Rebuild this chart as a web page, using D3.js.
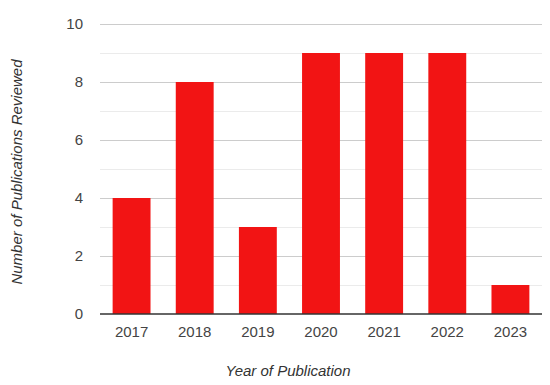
<!DOCTYPE html>
<html>
<head>
<meta charset="utf-8">
<script src="https://cdn.jsdelivr.net/npm/d3@7"></script>
<style>
  body { margin: 0; background: #fff; }
  text { font-family: "Liberation Sans", Arial, sans-serif; }
</style>
</head>
<body>
<div id="chart"></div>
<script>
var years = ["2017", "2018", "2019", "2020", "2021", "2022", "2023"]
var counts = [4, 8, 3, 9, 9, 9, 1]
var yTicks = [0, 2, 4, 6, 8, 10]
var yMinor = [1, 3, 5, 7, 9]

var w = 550
var h = 385
var margin = {top: 24, right: 8, bottom: 71, left: 100}

var svg = d3.select("#chart").append("svg").attr("width", w).attr("height", h)

var x = d3.scaleBand()
    .domain(years)
    .range([margin.left, w - margin.right])
    .paddingInner(0.4)
    .paddingOuter(0.2)

var y = d3.scaleLinear()
    .domain([0, 10])
    .range([h - margin.bottom, margin.top])

// minor gridlines
svg.append("g")
    .selectAll("line")
    .data(yMinor)
    .enter()
    .append("line")
    .attr("x1", margin.left)
    .attr("x2", w - margin.right)
    .attr("y1", function(d) { return Math.round(y(d)) + 0.5 })
    .attr("y2", function(d) { return Math.round(y(d)) + 0.5 })
    .attr("stroke", "#ebebeb")

// major gridlines
svg.append("g")
    .selectAll("line")
    .data(yTicks.slice(1))
    .enter()
    .append("line")
    .attr("x1", margin.left)
    .attr("x2", w - margin.right)
    .attr("y1", function(d) { return Math.round(y(d)) + 0.5 })
    .attr("y2", function(d) { return Math.round(y(d)) + 0.5 })
    .attr("stroke", "#cccccc")

// bars
svg.append("g")
    .selectAll("rect")
    .data(counts)
    .enter()
    .append("rect")
    .attr("x", function(d, i) { return x(years[i]) })
    .attr("width", x.bandwidth())
    .attr("y", function(d) { return y(d) })
    .attr("height", function(d) { return y(0) - y(d) })
    .attr("fill", "#f21414")

// baseline
svg.append("line")
    .attr("x1", margin.left)
    .attr("x2", w - margin.right)
    .attr("y1", y(0))
    .attr("y2", y(0))
    .attr("stroke", "#333")
    .attr("stroke-width", 1.5)

// y tick labels
svg.append("g")
    .selectAll("text")
    .data(yTicks)
    .enter()
    .append("text")
    .text(function(d) { return d })
    .attr("x", 83)
    .attr("y", function(d) { return y(d) })
    .attr("dy", "0.35em")
    .attr("text-anchor", "end")
    .attr("font-size", "15px")
    .attr("fill", "#444")

// x tick labels
svg.append("g")
    .selectAll("text")
    .data(years)
    .enter()
    .append("text")
    .text(function(d) { return d })
    .attr("x", function(d) { return x(d) + x.bandwidth() / 2 })
    .attr("y", 337)
    .attr("text-anchor", "middle")
    .attr("font-size", "15px")
    .attr("fill", "#444")

// axis titles
svg.append("text")
    .text("Year of Publication")
    .attr("x", 288)
    .attr("y", 376)
    .attr("text-anchor", "middle")
    .attr("font-size", "15px")
    .attr("font-style", "italic")
    .attr("fill", "#333")

svg.append("text")
    .text("Number of Publications Reviewed")
    .attr("transform", "translate(22," + 172 + ") rotate(-90)")
    .attr("text-anchor", "middle")
    .attr("font-size", "15px")
    .attr("font-style", "italic")
    .attr("fill", "#333")
</script>
</body>
</html>
